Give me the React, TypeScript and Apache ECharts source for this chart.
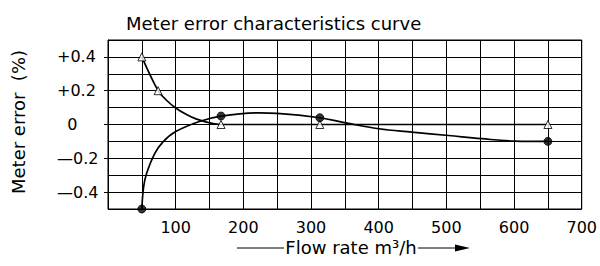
import React, { useEffect, useRef } from "react";
import * as echarts from "echarts";

// Measured points (markers)
const triangleFlow = [50, 74, 167, 313, 650];
const triangleError = [0.4, 0.2, 0.0, 0.0, 0.0];
const circleFlow = [50, 167, 313, 650];
const circleError = [-0.5, 0.05, 0.04, -0.1];

// Curve traces
const triangleCurveFlow = [50, 74, 86, 100, 116, 130, 150, 167, 313, 650];
const triangleCurveError = [0.4, 0.2, 0.145, 0.098, 0.059, 0.033, 0.01, 0.0, 0.0, 0.0];
const circleCurveFlow = [50, 52.6, 57, 69, 81, 100, 135, 167, 223, 250, 313, 351, 400, 449, 503, 552, 601, 650];
const circleCurveError = [-0.5, -0.37, -0.29, -0.172, -0.104, -0.042, 0.018, 0.05, 0.069, 0.066, 0.04, 0.01, -0.025, -0.045, -0.065, -0.084, -0.098, -0.1];

const xTickLabels = [100, 200, 300, 400, 500, 600, 700];
const yTickLabels = [-0.4, -0.2, 0, 0.2, 0.4];

const titleText = "Meter error characteristics curve";
const yName = "Meter error  (%)";
const xName = "Flow rate m³/h";

const FONT = "DejaVu Sans";

const zip = (a: number[], b: number[]) => a.map((v, i) => [v, b[i]]);

export default function App() {
  const ref = useRef<HTMLDivElement>(null);
  useEffect(() => {
    if (!ref.current) return;
    const chart = echarts.init(ref.current, null, { renderer: "svg" });
    const fmtY = (v: number) => {
      const r = Math.round(v * 10) / 10;
      if (r > 0) return "+" + r.toFixed(1);
      if (r < 0) return "\u2014" + Math.abs(r).toFixed(1);
      return "  0";
    };
    chart.setOption({
      animation: false,
      backgroundColor: "#ffffff",
      title: {
        text: titleText,
        left: 121,
        top: 9,
        textStyle: { fontFamily: FONT, fontSize: 18, fontWeight: "normal", color: "#000" },
      },
      grid: {
        left: 108,
        right: 16,
        top: 40,
        bottom: 57,
        show: true,
        borderColor: "#000",
        borderWidth: 1,
      },
      xAxis: [
        {
          type: "value",
          min: 0,
          max: 700,
          interval: 50,
          position: "bottom",
          axisLine: { show: true, lineStyle: { color: "#000", width: 1 } },
          axisTick: { show: false },
          axisLabel: { show: false },
          splitLine: { show: true, lineStyle: { color: "#000", width: 1 } },
        },
        {
          type: "value",
          min: 0,
          max: 700,
          interval: 100,
          position: "bottom",
          axisLine: { show: false },
          axisTick: { show: true, customValues: xTickLabels, length: 5, lineStyle: { color: "#000" } },
          axisLabel: {
            show: true,
            customValues: xTickLabels,
            margin: 10,
            fontFamily: FONT,
            fontSize: 16,
            color: "#000",
          },
          splitLine: { show: false },
        },
      ],
      yAxis: [
        {
          type: "value",
          min: -0.5,
          max: 0.5,
          interval: 0.1,
          position: "left",
          axisLine: { show: true, lineStyle: { color: "#000", width: 1 } },
          axisTick: { show: false },
          axisLabel: { show: false },
          splitLine: { show: true, lineStyle: { color: "#000", width: 1 } },
        },
        {
          type: "value",
          min: -0.5,
          max: 0.5,
          interval: 0.1,
          position: "left",
          axisLine: { show: false },
          axisTick: { show: true, customValues: yTickLabels, length: 4, lineStyle: { color: "#000" } },
          axisLabel: {
            show: true,
            customValues: yTickLabels,
            formatter: fmtY,
            align: "left",
            margin: 51,
            fontFamily: FONT,
            fontSize: 16,
            color: "#000",
          },
          splitLine: { show: false },
        },
      ],
      graphic: [
        {
          type: "text",
          x: 18,
          y: 122,
          rotation: Math.PI / 2,
          style: {
            text: yName,
            align: "center",
            verticalAlign: "middle",
            font: `18px "${FONT}"`,
            fill: "#000",
          },
        },
        {
          type: "text",
          x: 351,
          y: 247,
          style: {
            text: xName,
            align: "center",
            verticalAlign: "middle",
            font: `18px "${FONT}"`,
            fill: "#000",
          },
        },
        { type: "line", shape: { x1: 237, y1: 248, x2: 284, y2: 248 }, style: { stroke: "#000", lineWidth: 1 } },
        { type: "line", shape: { x1: 418, y1: 248, x2: 458, y2: 248 }, style: { stroke: "#000", lineWidth: 1 } },
        {
          type: "polygon",
          shape: { points: [[455, 244.5], [470, 248], [455, 251.5]] },
          style: { fill: "#000" },
        },
      ],
      series: [
        {
          type: "line",
          xAxisIndex: 0,
          yAxisIndex: 0,
          data: zip(triangleCurveFlow, triangleCurveError),
          smooth: 0.35,
          showSymbol: false,
          symbol: "none",
          lineStyle: { color: "#000", width: 1.7 },
          z: 3,
        },
        {
          type: "line",
          xAxisIndex: 0,
          yAxisIndex: 0,
          data: zip(circleCurveFlow, circleCurveError),
          smooth: 0.4,
          showSymbol: false,
          symbol: "none",
          lineStyle: { color: "#000", width: 1.7 },
          z: 3,
        },
        {
          type: "scatter",
          xAxisIndex: 0,
          yAxisIndex: 0,
          data: zip(triangleFlow, triangleError),
          symbol: "triangle",
          symbolSize: 8,
          itemStyle: { color: "#fff", borderColor: "#000", borderWidth: 1 },
          z: 5,
        },
        {
          type: "scatter",
          xAxisIndex: 0,
          yAxisIndex: 0,
          data: zip(circleFlow, circleError),
          symbol: "circle",
          symbolSize: 8,
          itemStyle: { color: "#000", borderColor: "#000", borderWidth: 1 },
          z: 5,
        },
      ],
    });
    return () => chart.dispose();
  }, []);
  return <div ref={ref} style={{ width: 600, height: 266, position: "absolute", left: 0, top: 0 }} />;
}
